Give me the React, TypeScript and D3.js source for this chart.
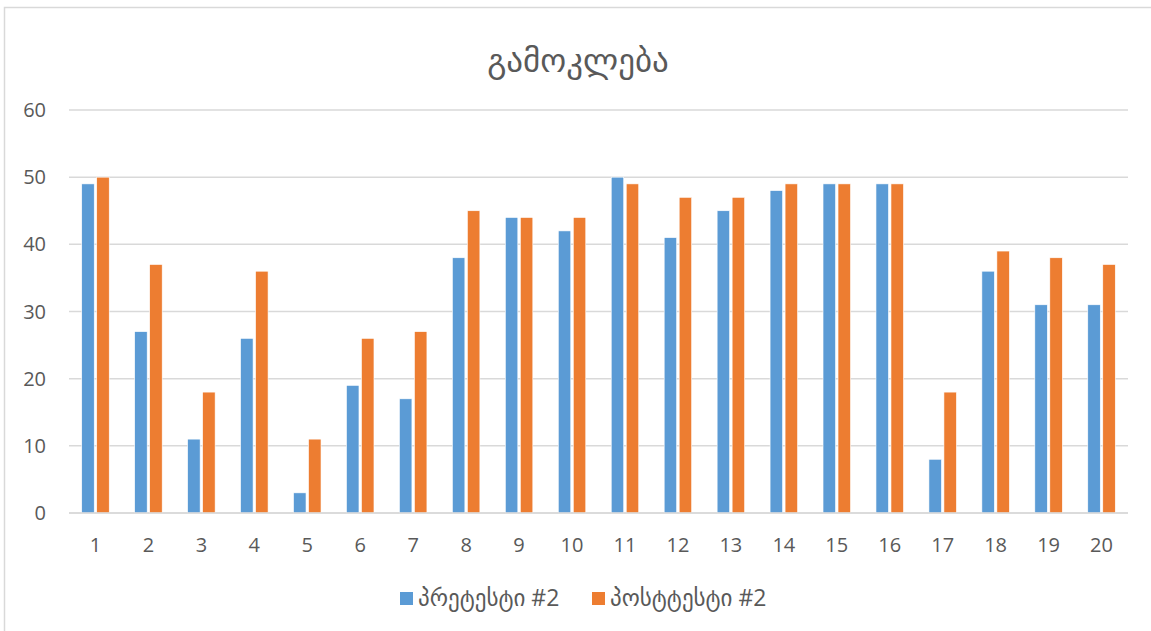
import React from "react";
import * as d3 from "d3";

const categories = ["1","2","3","4","5","6","7","8","9","10","11","12","13","14","15","16","17","18","19","20"];
const pretest = [49, 27, 11, 26, 3, 19, 17, 38, 44, 42, 50, 41, 45, 48, 49, 49, 8, 36, 31, 31];
const posttest = [50, 37, 18, 36, 11, 26, 27, 45, 44, 44, 49, 47, 47, 49, 49, 49, 18, 39, 38, 37];
const yTicks = [0, 10, 20, 30, 40, 50, 60];
const seriesNames = ["პრეტესტი #2", "პოსტტესტი #2"];
const colors = ["#5b9bd5", "#ed7d31"];

const W = 1151;
const H = 631;
const plot = { left: 69, right: 1128, top: 110, bottom: 513 };
const font = "'Open Sans', 'DejaVu Sans', sans-serif";

export default function App() {
  const x = d3.scaleBand<string>().domain(categories).range([plot.left, plot.right]);
  const y = d3.scaleLinear().domain([0, 60]).range([plot.bottom, plot.top]);
  const barW = 12.5;
  const gap = 2.5;
  const series = [pretest, posttest];

  return (
    <svg width={W} height={H} style={{ position: "absolute", left: 0, top: 0, background: "#fff" }}>
      <rect x={4.5} y={7.5} width={1160} height={640} fill="#fff" stroke="#d9d9d9" strokeWidth={1.5} />
      <text x={578} y={72} textAnchor="middle" fontFamily={font} fontSize={33} fill="#595959">
        გამოკლება
      </text>
      {yTicks.map((t) => (
        <g key={t}>
          <line x1={plot.left} x2={plot.right} y1={y(t)} y2={y(t)} stroke="#d9d9d9" strokeWidth={1.5} />
          <text x={46} y={y(t)} dy="0.35em" textAnchor="end" fontFamily={font} fontSize={20} fill="#595959">
            {t}
          </text>
        </g>
      ))}
      {categories.map((c, i) => {
        const cx = (x(c) as number) + x.bandwidth() / 2;
        return (
          <g key={c}>
            {series.map((s, k) => {
              const bx = k === 0 ? cx - gap / 2 - barW : cx + gap / 2;
              return (
                <rect
                  key={k}
                  x={bx}
                  y={y(s[i])}
                  width={barW}
                  height={y(0) - y(s[i])}
                  fill={colors[k]}
                  stroke="#fff"
                  strokeWidth={0.6}
                />
              );
            })}
            <text x={cx} y={552} textAnchor="middle" fontFamily={font} fontSize={20} fill="#595959">
              {c}
            </text>
          </g>
        );
      })}
      <line x1={plot.left} x2={plot.right} y1={y(0)} y2={y(0)} stroke="#d9d9d9" strokeWidth={1.5} />
      {seriesNames.map((n, k) => {
        const lx = k === 0 ? 400 : 592;
        return (
          <g key={n}>
            <rect x={lx} y={592} width={13} height={13} fill={colors[k]} />
            <text x={lx + 18} y={606} fontFamily={font} fontSize={23} fill="#595959">
              {n}
            </text>
          </g>
        );
      })}
    </svg>
  );
}
